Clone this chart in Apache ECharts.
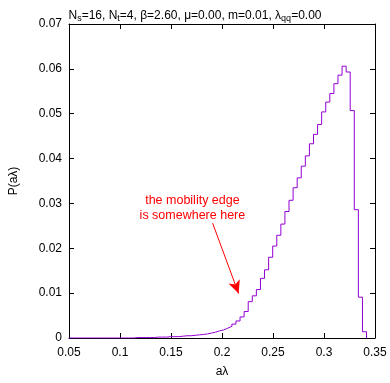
<!DOCTYPE html>
<html><head><meta charset="utf-8">
<script src="https://cdn.jsdelivr.net/npm/echarts@6/dist/echarts.min.js"></script>
<style>html,body{margin:0;padding:0;background:#fff}#c{width:390px;height:383px}</style>
</head><body><div id="c"></div>
<script>
// histogram bin left edges (last entry = right edge of last bin)
const binEdges = [0.0497,0.0537,0.0577,0.0617,0.0657,0.0697,0.0737,0.0777,0.0817,0.0857,
0.0897,0.0937,0.0977,0.1017,0.1057,0.1097,0.1137,0.1177,0.1217,0.1257,
0.1297,0.1337,0.1377,0.1417,0.1457,0.1497,0.1537,0.1577,0.1617,0.1657,
0.1697,0.1737,0.1777,0.1817,0.1857,0.1897,0.1937,0.1977,0.2017,0.2057,
0.2097,0.2137,0.2177,0.2217,0.2257,0.2297,0.2337,0.2377,0.2417,0.2457,
0.2497,0.2537,0.2577,0.2617,0.2657,0.2697,0.2737,0.2777,0.2817,0.2857,
0.2897,0.2937,0.2977,0.3017,0.3057,0.3097,0.3137,0.3177,0.3217,0.3257,
0.3297,0.3337,0.3377,0.3417];
// P(a lambda) per bin
const binValues = [0,0,0,0,0,0,0,0,0,0,
0,0,0,0,0,0,0.0001,0.0001,0.0001,0.0001,
0.0001,0.0002,0.0002,0.0002,0.0003,0.0003,0.0003,0.0004,0.0005,0.0005,
0.0006,0.0007,0.0008,0.0009,0.0011,0.0013,0.0016,0.0018,0.0022,0.0026,
0.0031,0.0038,0.0047,0.0059,0.0081,0.0094,0.0108,0.0133,0.0152,0.0180,
0.0205,0.0229,0.0254,0.0282,0.0307,0.0335,0.0357,0.0383,0.0406,0.0433,
0.0454,0.0476,0.0504,0.0526,0.0545,0.0567,0.0586,0.0606,0.0593,0.0507,
0.0286,0.0091,0.0014];
const xTicks = [0.05,0.1,0.15,0.2,0.25,0.3,0.35];
const yTicks = [0,0.01,0.02,0.03,0.04,0.05,0.06,0.07];
const titleText = 'N{sub|s}=16, N{sub|t}=4, β=2.60, μ=0.00, m=0.01, λ{sub|qq}=0.00';
const noteLines = ['the mobility edge','is somewhere here'];
const noteAnchor = [0.171, 0.0322];
const arrowFrom = [0.1908, 0.0256];
const arrowTo = [0.2163, 0.0099];

const FONT = 'Liberation Sans, Arial, sans-serif';
const data = binEdges.map((e,i)=>[e, i<binValues.length ? binValues[i] : 0]);

const chart = echarts.init(document.getElementById('c'), null, {renderer:'canvas'});
const axisCommon = {
  axisLine:{show:true,onZero:false,lineStyle:{color:'#000',width:1}},
  axisTick:{show:true,inside:true,length:5,lineStyle:{color:'#000',width:1}},
  splitLine:{show:false}
};
chart.setOption({
  animation:false,
  title:{text:titleText,left:'center',top:3,
    textStyle:{fontFamily:FONT,fontSize:12,fontWeight:'normal',color:'#000',
      rich:{sub:{fontFamily:FONT,fontSize:9,verticalAlign:'bottom',padding:[6,0,0,0]}}}},
  grid:{left:69,right:15,top:24,bottom:40,containLabel:false},
  xAxis:[
    Object.assign({type:'value',min:0.05,max:0.35,interval:0.05,position:'bottom',
      name:'aλ',nameLocation:'middle',nameGap:28,
      nameTextStyle:{fontFamily:FONT,fontSize:12,color:'#000'},
      axisLabel:{fontFamily:FONT,fontSize:12,color:'#000',margin:9,
        formatter:v=>{const t=xTicks.find(x=>Math.abs(x-v)<1e-9);return t===undefined?'':String(t);}}},axisCommon),
    Object.assign({type:'value',min:0.05,max:0.35,interval:0.05,position:'top',axisLabel:{show:false}},axisCommon)
  ],
  yAxis:[
    Object.assign({type:'value',min:0,max:0.07,interval:0.01,position:'left',
      name:'P(aλ)',nameLocation:'middle',nameGap:49,nameRotate:90,
      nameTextStyle:{fontFamily:FONT,fontSize:12,color:'#000'},
      axisLabel:{fontFamily:FONT,fontSize:12,color:'#000',margin:7,
        formatter:v=>{const t=yTicks.find(x=>Math.abs(x-v)<1e-9);return t===undefined?'':String(t);}}},axisCommon),
    Object.assign({type:'value',min:0,max:0.07,interval:0.01,position:'right',axisLabel:{show:false}},axisCommon)
  ],
  series:[{
    type:'line',step:'end',data:data,showSymbol:false,symbol:'none',
    lineStyle:{color:'#9400d3',width:1},clip:true,z:3,
    markLine:{silent:true,symbol:['none','arrow'],symbolSize:[9,13],
      lineStyle:{color:'#ff0000',width:1,type:'solid'},label:{show:false},
      data:[[{coord:arrowFrom},{coord:arrowTo}]]}
  }]
});
// position annotation text via the axes' scale
const p = chart.convertToPixel({xAxisIndex:0,yAxisIndex:0},noteAnchor);
chart.setOption({graphic:[{type:'text',x:p[0],y:p[1],silent:true,
  style:{text:noteLines.join('\n'),fill:'#ff0000',font:'12.5px '+FONT,align:'center',verticalAlign:'top',lineHeight:14.5}}]});
</script></body></html>
